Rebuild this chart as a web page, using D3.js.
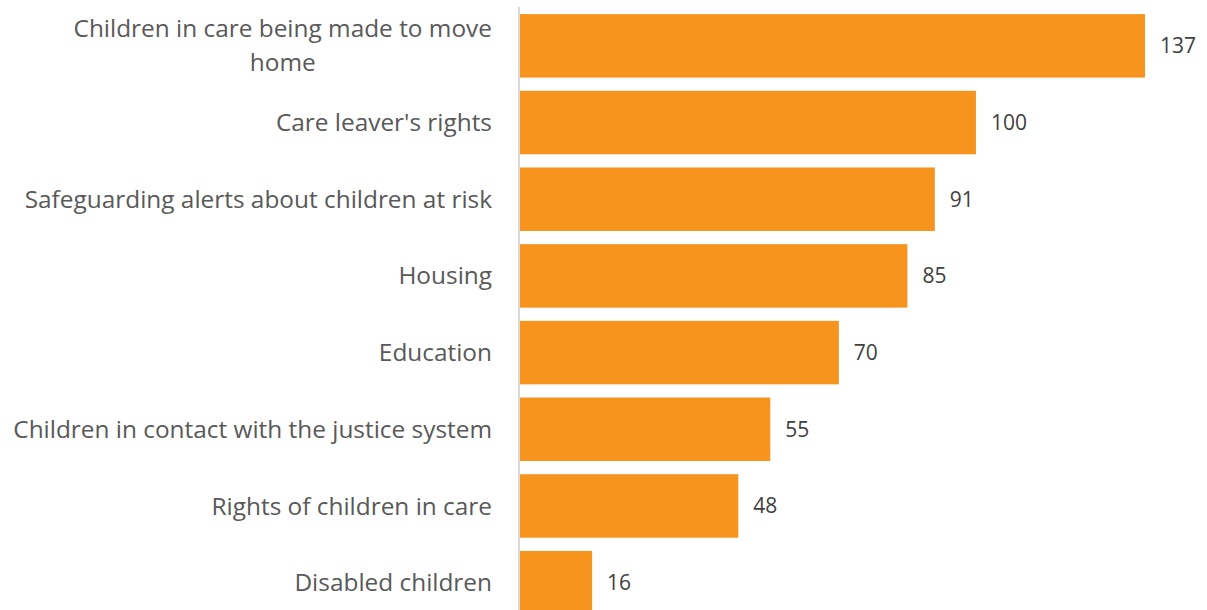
<!DOCTYPE html>
<html>
<head>
  <meta charset="utf-8">
  <script src="https://d3js.org/d3.v7.min.js"></script>
  <style>
    body { margin: 0; background: #fff; }
    text { font-family: "Open Sans", sans-serif; }
  </style>
</head>
<body>
<script>
  // chart data
  var categories = [
    ["Children in care being made to move", "home"],
    ["Care leaver's rights"],
    ["Safeguarding alerts about children at risk"],
    ["Housing"],
    ["Education"],
    ["Children in contact with the justice system"],
    ["Rights of children in care"],
    ["Disabled children"]
  ];
  var values = [137, 100, 91, 85, 70, 55, 48, 16];

  var width = 1207, height = 610;
  var svg = d3.select("body").append("svg")
    .attr("width", width)
    .attr("height", height);

  var keys = categories.map(function (c, i) { return i; });

  var x = d3.scaleLinear().domain([0, 137]).range([519, 1145]);
  var y = d3.scaleBand().domain(keys).range([7.5, 621])
    .paddingInner(0.172).paddingOuter(0.086);

  // bars
  svg.selectAll("rect.bar")
    .data(values)
    .enter()
    .append("rect")
      .attr("class", "bar")
      .attr("x", x(0))
      .attr("y", function (d, i) { return y(i); })
      .attr("width", function (d) { return x(d) - x(0); })
      .attr("height", y.bandwidth())
      .attr("fill", "#F7941E");

  // axis line
  svg.append("line")
    .attr("x1", 519).attr("x2", 519)
    .attr("y1", 7).attr("y2", height)
    .attr("stroke", "#d9d9d9")
    .attr("stroke-width", 2);

  // value labels
  svg.selectAll("text.val")
    .data(values)
    .enter()
    .append("text")
      .attr("class", "val")
      .attr("x", function (d) { return x(d) + 15; })
      .attr("y", function (d, i) { return y(i) + y.bandwidth() / 2; })
      .attr("dy", "0.35em")
      .style("font-size", "21px")
      .style("fill", "#404040")
      .text(function (d) { return d; });

  // category labels (multi-line ones are centred within their block)
  var lineH = 34;
  categories.forEach(function (lines, i) {
    var cy = y(i) + y.bandwidth() / 2;
    var g = svg.append("text")
      .style("font-size", "24.4px")
      .style("fill", "#595959");
    var spans = lines.map(function (t, j) {
      return g.append("tspan")
        .attr("y", cy + (j - (lines.length - 1) / 2) * lineH)
        .attr("dy", "0.35em")
        .text(t);
    });
    var widths = spans.map(function (s) { return s.node().getComputedTextLength(); });
    var maxW = d3.max(widths);
    spans.forEach(function (s, j) {
      s.attr("x", 492 - maxW / 2).attr("text-anchor", "middle");
    });
  });
</script>
</body>
</html>
